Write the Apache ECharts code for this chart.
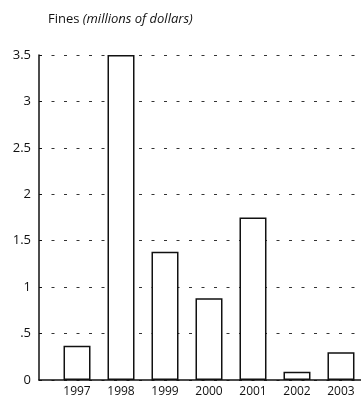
<!DOCTYPE html>
<html>
<head>
<meta charset="utf-8">
<style>
  html, body { margin: 0; padding: 0; background: #fff; }
  #chart { width: 361px; height: 402px; }
</style>
<script src="https://cdn.jsdelivr.net/npm/echarts@6/dist/echarts.min.js"></script>
</head>
<body>
<div id="chart"></div>
<script>
// Annual fines, millions of dollars
const years = ['1997', '1998', '1999', '2000', '2001', '2002', '2003'];
const fines = [0.37, 3.5, 1.38, 0.88, 1.75, 0.09, 0.3];
const yTickLabels = ['0', '.5', '1', '1.5', '2', '2.5', '3', '3.5'];

const chart = echarts.init(document.getElementById('chart'), null, { renderer: 'canvas' });
const font = '"Open Sans", "Noto Sans", sans-serif';

chart.setOption({
  animation: false,
  backgroundColor: '#fff',
  title: {
    text: '{a|Fines }{b|(millions of dollars)}',
    left: 43,
    top: 8,
    textStyle: {
      rich: {
        a: { fontFamily: font, fontSize: 13, fontWeight: 'normal', color: '#111' },
        b: { fontFamily: font, fontSize: 13, fontWeight: 'normal', fontStyle: 'italic', color: '#111' }
      }
    }
  },
  grid: { left: 39, right: 0, top: 55, bottom: 22 },
  xAxis: {
    type: 'value',
    min: -0.864,
    max: 6.455,
    axisLine: { show: true, onZero: false, lineStyle: { color: '#111', width: 1.5 } },
    axisTick: { show: false },
    splitLine: { show: false },
    axisLabel: {
      customValues: years.map((_, i) => i),
      formatter: v => years[Math.round(v)] || '',
      fontFamily: font,
      fontSize: 12,
      color: '#111',
      margin: 6
    }
  },
  yAxis: {
    type: 'value',
    min: 0,
    max: 3.5,
    interval: 0.5,
    axisLine: { show: true, onZero: false, lineStyle: { color: '#111', width: 1.5 } },
    axisTick: { show: true, inside: true, length: 3, lineStyle: { color: '#111', width: 1 } },
    splitLine: {
      show: true,
      lineStyle: { color: '#333', width: 1, type: [3, 9.5] }
    },
    axisLabel: {
      formatter: v => yTickLabels[Math.round(v * 2)],
      fontFamily: font,
      fontSize: 13,
      color: '#111',
      margin: 8
    }
  },
  series: [{
    type: 'bar',
    data: fines.map((v, i) => [i, v]),
    barWidth: 27,
    itemStyle: { color: '#fff', borderColor: '#111', borderWidth: 1.5 }
  }]
});
</script>
</body>
</html>
